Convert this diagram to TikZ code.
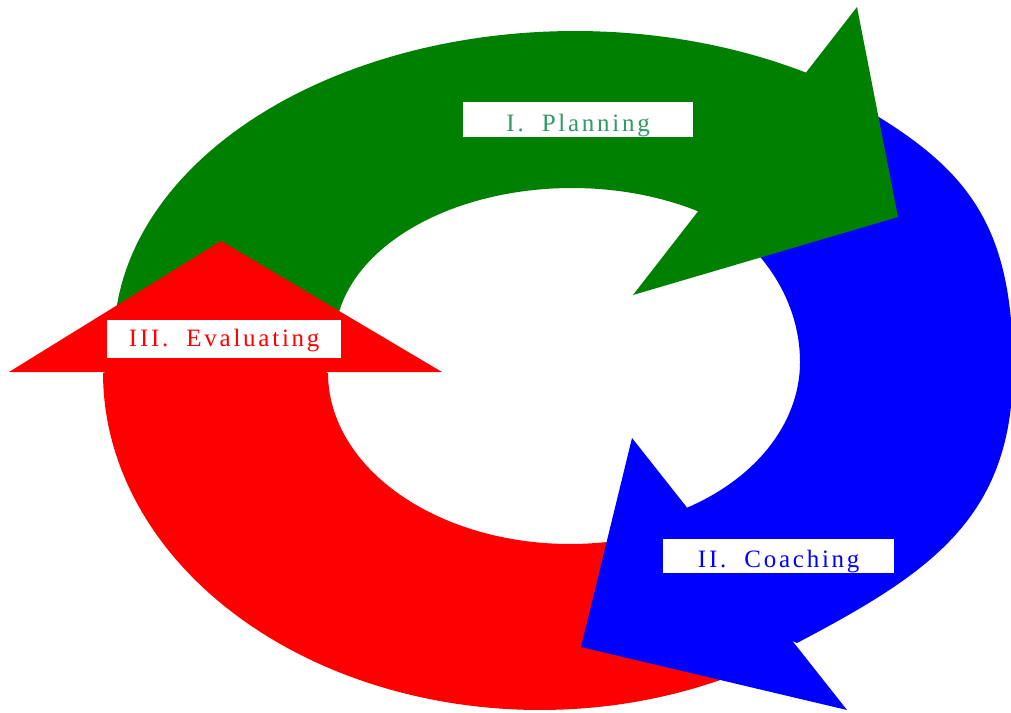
\documentclass[tikz,border=0pt]{standalone}
\usepackage{fontspec}
\setmainfont{Liberation Serif}
\newfontfamily\tagfont[LetterSpace=11]{Liberation Serif}
\usepackage{xcolor}
\usepackage{tikz}
\definecolor{plangreen}{HTML}{008000}
\definecolor{plantext}{HTML}{339966}
\definecolor{coachblue}{HTML}{0000FF}
\definecolor{evalred}{HTML}{FF0000}

\begin{document}
\begin{tikzpicture}[
  x=1pt, y=-1pt,
  rim/.style={domain=#1, samples=80, variable=\t},
  tagbox/.style={fill=white, inner sep=0pt, anchor=north west, align=center,
                 font=\tagfont\fontsize{25}{25}\selectfont},
]
\useasboundingbox (0,0) rectangle (1011,712);

% ==== shafts: elliptic rims, tails tucked under the next arrow's head;
% each shaft runs on into its own head so no seam shows
\fill[plangreen]
  plot[rim=181:301] ({575+461*cos(\t)}, {340+309*sin(\t)})
  -- (796,173)
  -- plot[rim=303:180] ({572+237*cos(\t)}, {340+152*sin(\t)})
  -- cycle;
\fill[coachblue]
  (850,100) .. controls (963,164) and (1013,218) .. (1013,368)
            .. controls (1013,518) and (930,573) .. (797,643)
  -- (687,598)
  -- plot[rim=62:0] ({575+225*cos(\t)}, {362+168*sin(\t)})
  -- plot[rim=0:-41] ({575+225*cos(\t)}, {362+185*sin(\t)})
  -- cycle;
\fill[evalred]
  plot[rim=60:180] ({540+437*cos(\t)}, {373+337*sin(\t)})
  -- (224,330)
  -- plot[rim=180:72] ({570+242*cos(\t)}, {373+171*sin(\t)})
  -- cycle;

% ==== heads
\fill[plangreen] (857,7) -- (898,217) -- (633,295) -- cycle;
\fill[coachblue] (632,438) -- (581,647) -- (847,710) -- cycle;
\fill[evalred] (221,241) -- (442,372) -- (9,372) -- cycle;

% ==== stage labels
\node[tagbox, minimum width=230pt, text height=29.7pt, text depth=5.3pt,
      text=plantext] (plan) at (463,102) {I.\ \ Planning};
\node[tagbox, minimum width=231pt, text height=28pt, text depth=5.4pt,
      text=coachblue] (coach) at (663,539) {II.\ \ Coaching};
\node[tagbox, minimum width=234pt, text height=26.7pt, text depth=11pt,
      text=evalred] (eval) at (107,320) {III.\ \ Evaluating};

\end{tikzpicture}
\end{document}
